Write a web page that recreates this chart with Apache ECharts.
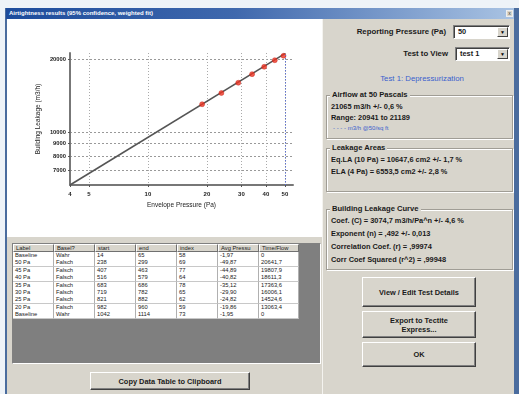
<!DOCTYPE html>
<html><head><meta charset="utf-8">
<script src="https://cdn.jsdelivr.net/npm/echarts@6/dist/echarts.min.js"></script>
<style>
html,body{margin:0;padding:0;}
body{width:519px;height:394px;overflow:hidden;background:#eef3f8;position:relative;font-family:"Liberation Sans",Arial,sans-serif;color:#1a1a1a;}
.a{position:absolute;box-sizing:border-box;white-space:nowrap;}
.gb{border:1px solid #a09d95;box-shadow:1px 1px 0 #fff inset,1px 1px 0 #fff;}
.gt{background:#d8d5cc;padding:0 2px;font-weight:bold;font-size:7.6px;line-height:9px;}
.tx{font-weight:bold;font-size:7.4px;line-height:9px;}
.btn{background:#d8d5cc;border:1px solid;border-color:#fff #404040 #404040 #fff;box-shadow:-1px -1px 0 #808080 inset;font-weight:bold;font-size:7.4px;text-align:center;display:flex;align-items:center;justify-content:center;line-height:9px;}
.dd{background:#fff;border:1px solid;border-color:#808080 #fff #fff #808080;box-shadow:1px 1px 0 #404040 inset;font-weight:bold;font-size:7.4px;line-height:11px;padding-left:4px;}
.arr{position:absolute;right:1px;top:1px;bottom:1px;width:9px;background:#d8d5cc;border:1px solid;border-color:#fff #404040 #404040 #fff;font-size:5px;line-height:8px;text-align:center;color:#000;}
.cell{position:absolute;box-sizing:border-box;font-size:5.8px;line-height:7px;padding-left:2px;overflow:hidden;white-space:nowrap;}
</style></head><body>
<div class="a" style="left:5px;top:8px;width:514px;height:386px;background:#4a6c9e;"></div>
<div class="a" style="left:6px;top:8px;width:508px;height:11px;background:linear-gradient(90deg,#1d4c9c 0%,#3f68ad 45%,#a9c3e3 100%);"></div>
<div class="a" style="left:9px;top:8px;height:11px;line-height:11px;font-size:6px;font-weight:bold;color:#fff;">Airtightness results (95% confidence, weighted fit)</div>
<div class="a" style="left:506px;top:10px;width:7px;height:7px;background:#d8d5cc;border:1px solid #eee;font-size:5px;line-height:5px;text-align:center;color:#333;">x</div>
<div class="a" style="left:7px;top:19px;width:507px;height:375px;background:#d8d5cc;"></div>
<div class="a" style="left:7px;top:19px;width:315px;height:218px;background:#fff;"></div>
<div class="a" style="left:322px;top:19px;width:1px;height:375px;background:#f4f3ef;"></div>

<div class="a" style="left:12px;top:243px;width:309px;height:121px;background:#7f7f7f;border:1px solid;border-color:#808080 #fff #fff #808080;"></div>
<div id="table"></div>

<div class="a btn" style="left:90px;top:372px;width:160px;height:18px;">Copy Data Table to Clipboard</div>

<div class="a tx" style="right:73px;top:27px;font-size:7.8px;">Reporting Pressure (Pa)</div>
<div class="a dd" style="left:453px;top:25px;width:57px;height:14px;"><span id="dd1"></span><div class="arr">&#9660;</div></div>
<div class="a tx" style="right:71px;top:49px;font-size:7.8px;">Test to View</div>
<div class="a dd" style="left:455px;top:47px;width:55px;height:14px;"><span id="dd2"></span><div class="arr">&#9660;</div></div>
<div class="a" id="testTitle" style="left:362px;width:120px;top:74px;text-align:center;font-size:7.8px;line-height:10px;color:#3a5fcd;"></div>

<div class="a gb" style="left:326px;top:95px;width:187px;height:44px;"></div>
<div class="a gt" style="left:330px;top:90px;">Airflow at 50 Pascals</div>
<div class="a tx" id="af1" style="left:331px;top:102px;"></div>
<div class="a tx" id="af2" style="left:331px;top:113px;"></div>
<div class="a" id="af3" style="left:333px;top:124px;font-size:6px;line-height:8px;color:#3a5fcd;"></div>

<div class="a gb" style="left:326px;top:148px;width:187px;height:44px;"></div>
<div class="a gt" style="left:330px;top:143px;">Leakage Areas</div>
<div class="a tx" id="la1" style="left:331px;top:155px;"></div>
<div class="a tx" id="la2" style="left:331px;top:167px;"></div>

<div class="a gb" style="left:326px;top:209px;width:187px;height:61px;"></div>
<div class="a gt" style="left:330px;top:204px;">Building Leakage Curve</div>
<div class="a tx" id="bc1" style="left:331px;top:216px;"></div>
<div class="a tx" id="bc2" style="left:331px;top:229px;"></div>
<div class="a tx" id="bc3" style="left:331px;top:242px;"></div>
<div class="a tx" id="bc4" style="left:331px;top:255px;"></div>

<div class="a btn" style="left:362px;top:277px;width:114px;height:30px;">View / Edit Test Details</div>
<div class="a btn" style="left:362px;top:311px;width:114px;height:27px;">Export to Tectite<br>Express...</div>
<div class="a btn" style="left:362px;top:342px;width:114px;height:25px;">OK</div>

<div id="chart" class="a" style="left:0;top:0;width:519px;height:394px;pointer-events:none;"></div>
<script>
// ---- chart data ----
const pressures = [18.9, 23.7, 28.9, 34.0, 39.2, 44.4, 49.2];
const flows = [13063.4, 14524.6, 16006.1, 17363.6, 18611.3, 19807.9, 20641.7];
const fitPressures = [4, 50];
const fitFlows = [6090, 21070];
const xTicks = [4, 5, 10, 20, 30, 40, 50];
const yTicks = [7000, 8000, 9000, 10000, 20000];
const refPressure = [50];

// ---- table data ----
const tableHeader = ['Label', 'Basel?', 'start', 'end', 'index', 'Avg Pressu', 'Time/Flow'];
const rowLabels = ['Baseline', '50 Pa', '45 Pa', '40 Pa', '35 Pa', '30 Pa', '25 Pa', '20 Pa', 'Baseline'];
const rowBaseline = ['Wahr', 'Falsch', 'Falsch', 'Falsch', 'Falsch', 'Falsch', 'Falsch', 'Falsch', 'Wahr'];
const rowStart = ['14', '238', '407', '516', '683', '719', '821', '982', '1042'];
const rowEnd = ['65', '299', '463', '579', '686', '782', '882', '960', '1114'];
const rowIndex = ['58', '69', '77', '64', '78', '65', '62', '59', '73'];
const rowAvgP = ['-1,97', '-49,87', '-44,89', '-40,82', '-35,12', '-29,90', '-24,82', '-19,86', '-1,95'];
const rowFlow = ['0', '20641,7', '19807,9', '18611,3', '17363,6', '16006,1', '14524,6', '13063,4', '0'];

// ---- panel texts ----
const reportingPressure = '50';
const testToView = 'test 1';
const testTitle = 'Test 1: Depressurization';
const airflowLines = ['21065 m3/h +/- 0,6 %', 'Range: 20941 to 21189', '- - - -  m3/h @50/sq ft'];
const leakageLines = ['Eq.LA (10 Pa) = 10647,6 cm2  +/- 1,7 %', 'ELA (4 Pa) = 6553,5 cm2  +/- 2,8 %'];
const curveLines = ['Coef. (C) = 3074,7 m3/h/Pa^n  +/- 4,6 %', 'Exponent (n) = ,492 +/- 0,013', 'Correlation Coef. (r) = ,99974', 'Corr Coef Squared (r^2) = ,99948'];

document.getElementById('dd1').textContent = reportingPressure;
document.getElementById('dd2').textContent = testToView;
document.getElementById('testTitle').textContent = testTitle;
['af1','af2','af3'].forEach((id,i)=>document.getElementById(id).textContent = airflowLines[i]);
['la1','la2'].forEach((id,i)=>document.getElementById(id).textContent = leakageLines[i]);
['bc1','bc2','bc3','bc4'].forEach((id,i)=>document.getElementById(id).textContent = curveLines[i]);

// build table
(function(){
  const colX = [13, 54, 95, 136, 177, 218, 259, 299];
  const t = document.getElementById('table');
  let html = '';
  const headTop = 244, headH = 8, rowH = 7.4;
  for (let c = 0; c < 7; c++) {
    html += `<div class="cell" style="left:${colX[c]}px;top:${headTop}px;width:${colX[c+1]-colX[c]}px;height:${headH}px;background:#d8d5cc;border:1px solid;border-color:#fff #707070 #707070 #fff;line-height:6px;">${tableHeader[c]}</div>`;
  }
  const cols = [rowLabels, rowBaseline, rowStart, rowEnd, rowIndex, rowAvgP, rowFlow];
  for (let r = 0; r < rowLabels.length; r++) {
    const top = headTop + headH + r * rowH;
    for (let c = 0; c < 7; c++) {
      html += `<div class="cell" style="left:${colX[c]}px;top:${top}px;width:${colX[c+1]-colX[c]}px;height:${rowH+0.6}px;background:#fff;border-right:1px solid #b0b0b0;border-bottom:1px solid #c8c8c8;">${cols[c][r]}</div>`;
    }
  }
  t.innerHTML = html;
})();

const chart = echarts.init(document.getElementById('chart'), null, {renderer: 'canvas'});
const fontFam = '"Liberation Sans", Arial, sans-serif';
chart.setOption({
  animation: false,
  backgroundColor: 'transparent',
  grid: {left: 70, top: 53, width: 223, height: 132},
  xAxis: {
    type: 'log', logBase: 10, min: 4, max: 55,
    name: 'Envelope Pressure (Pa)', nameLocation: 'middle', nameGap: 17,
    nameTextStyle: {fontSize: 6.5, color: '#222', fontFamily: fontFam},
    axisLine: {onZero: false, lineStyle: {color: '#777', width: 2}},
    axisTick: {show: true, customValues: xTicks, length: 2, lineStyle: {color: '#555'}},
    axisLabel: {customValues: xTicks, fontSize: 6, color: '#222', margin: 6, fontFamily: fontFam, fontWeight: 'bold',
      formatter: v => String(Math.round(v))},
    splitLine: {show: true, lineStyle: {color: '#aaa', type: [1, 2], width: 1}},
    minorTick: {show: false}
  },
  yAxis: {
    type: 'log', logBase: 10, min: 6090, max: 21200,
    name: 'Building Leakage (m3/h)', nameLocation: 'middle', nameGap: 28,
    nameTextStyle: {fontSize: 6.5, color: '#222', fontFamily: fontFam},
    axisLine: {onZero: false, lineStyle: {color: '#777', width: 2}},
    axisTick: {show: true, customValues: yTicks, length: 2, lineStyle: {color: '#555'}},
    axisLabel: {customValues: yTicks, fontSize: 5.8, color: '#222', margin: 4, fontFamily: fontFam, fontWeight: 'bold',
      formatter: v => String(Math.round(v))},
    splitLine: {show: true, lineStyle: {color: '#999', type: [2, 2], width: 1}}
  },
  series: [
    {
      type: 'line', data: fitPressures.map((p, i) => [p, fitFlows[i]]),
      symbol: 'none', lineStyle: {color: '#555', width: 1.6}, z: 2,
      markLine: {
        silent: true, symbol: 'none', label: {show: false},
        lineStyle: {color: '#5a6fd8', type: [1, 2], width: 1},
        data: refPressure.map(v => ({xAxis: v}))
      }
    },
    {
      type: 'scatter', data: pressures.map((p, i) => [p, flows[i]]),
      symbol: 'circle', symbolSize: 5, z: 3,
      itemStyle: {color: '#ee3322', borderColor: '#c01a10', borderWidth: 0.5}
    }
  ]
});
</script>
</body></html>
